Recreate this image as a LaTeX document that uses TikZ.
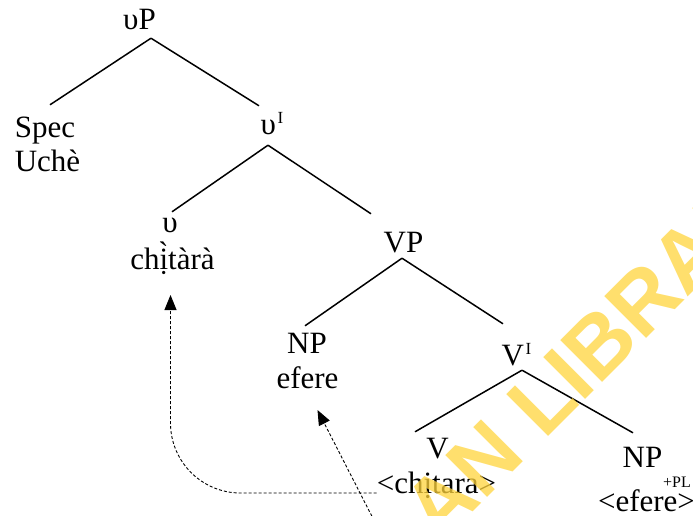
\documentclass[tikz,border=0pt]{standalone}
\usepackage{fontspec}
\setmainfont{Liberation Serif}
\setsansfont{Liberation Sans}
\usetikzlibrary{arrows.meta,calc}
\newcommand{\barI}{\kern1.5pt\raisebox{11pt}{\fontsize{17}{17}\selectfont I}}
\definecolor{wmyellow}{RGB}{255,212,60}

\begin{document}
\begin{tikzpicture}[x=1pt,y=-1pt,
    lbl/.style={font=\fontsize{31}{36}\selectfont,inner xsep=0pt,inner ysep=6pt,
      text height=21pt,text depth=0pt,anchor=base},
    feat/.style={font=\fontsize{16}{16}\selectfont,inner sep=0pt,anchor=base west},
    branch/.style={line width=1.5pt},
    trace/.style={line width=0.9pt,dash pattern=on 3pt off 2pt,
      -{Triangle[length=15pt,width=12pt]}},
    wm/.style={font=\sffamily\bfseries\fontsize{86}{86}\selectfont,text=wmyellow,
      opacity=0.75,inner sep=0pt}]
    \useasboundingbox (0,0) rectangle (693,516);

    % tree labels
    \node[lbl] (vP)    at (139.5,30) {υP};
    \node[lbl] (Spec)  at (45,138)   {Spec};
    \node[lbl] (Uche)  at (47.5,171) {Uchè};
    \node[lbl] (vI)    at (272,135)  {υ\barI};
    \node[lbl] (v)     at (170,232)  {υ};
    \node[lbl] (chit)  at (172.5,269) {chị̀tàrà};
    \node[lbl] (VP)    at (403.5,252) {VP};
    \node[lbl] (NP)    at (307,353)  {NP};
    \node[lbl] (efere) at (307.5,388) {efere};
    \node[lbl] (VI)    at (516.5,365) {V\barI};
    \node[lbl] (V)     at (437.5,458) {V};
    \node[lbl] (lowchit) at (436.5,493) {<chịtara>};
    \node[lbl] (NPpl)  at (642.5,467) {NP};
    \node[feat] (pl)   at (663,487)  {+PL};
    \node[lbl] (lowefere) at (646.5,511) {<efere>};

    % branches
    \draw[branch] ([shift={(11.5,2)}]vP.south) -- ([shift={(5,-6)}]Spec.north);
    \draw[branch] ([shift={(11.5,2)}]vP.south) -- ([shift={(-13,-2)}]vI.north);
    \draw[branch] ([shift={(-4,4)}]vI.south) -- ([shift={(2,7)}]v.north);
    \draw[branch] ([shift={(-4,4)}]vI.south) -- ([shift={(-32.5,-11)}]VP.north);
    \draw[branch] ([shift={(-1.5,0)}]VP.south) -- ([shift={(-2,0)}]NP.north);
    \draw[branch] ([shift={(-1.5,0)}]VP.south) -- ([shift={(-13.5,-14)}]VI.north);
    \draw[branch] ([shift={(5.5,-1)}]VI.south) -- ([shift={(-22.5,1)}]V.north);
    \draw[branch] ([shift={(5.5,-1)}]VI.south) -- ([shift={(-9.5,-7)}]NPpl.north);

    % movement
    \coordinate (src) at (381,534);
    \draw[trace,rounded corners=70pt] (lowchit.base west) -| ([shift={(-2,26)}]chit.base);
    \draw[trace] (src) -- ([shift={(10,22)}]efere.base);

    \node[wm,rotate=45] (wmark) at (586,357) {AN LIBRAR};
\end{tikzpicture}
\end{document}
